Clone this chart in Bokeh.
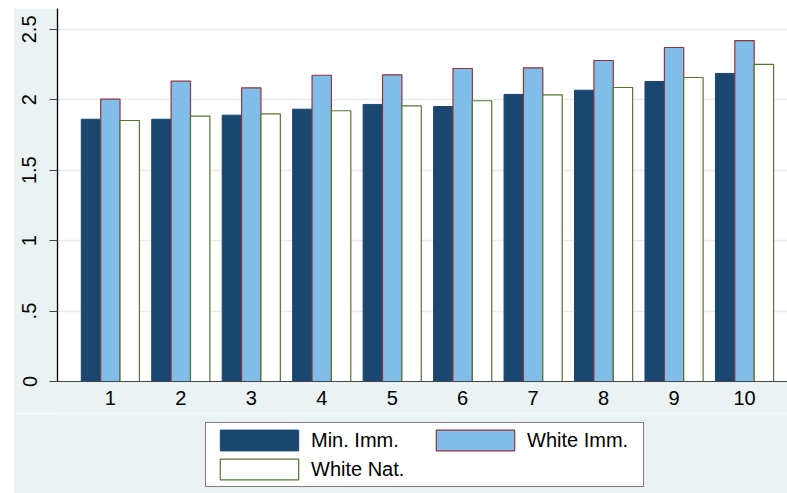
import numpy as np
from bokeh.plotting import figure
from bokeh.layouts import column
from bokeh.models import Range1d, FixedTicker, Legend, LegendItem
from bokeh.embed import file_html
from bokeh.resources import INLINE

categories = [1, 2, 3, 4, 5, 6, 7, 8, 9, 10]
min_imm = [1.862, 1.862, 1.891, 1.933, 1.967, 1.952, 2.038, 2.068, 2.130, 2.187]
white_imm = [2.004, 2.132, 2.085, 2.174, 2.177, 2.222, 2.227, 2.279, 2.371, 2.420]
white_nat = [1.853, 1.884, 1.900, 1.922, 1.957, 1.993, 2.035, 2.087, 2.158, 2.252]
y_ticks = [0, 0.5, 1, 1.5, 2, 2.5]
y_tick_labels = ["0", ".5", "1", "1.5", "2", "2.5"]
series_names = ["Min. Imm.", "White Imm.", "White Nat."]

FONT = "Liberation Sans"
BG = "#EAF2F3"
styles = [dict(fill_color="#1A476F", line_color="#1A476F", line_width=1),
          dict(fill_color="#80BDE8", line_color="#90353B", line_width=1.2),
          dict(fill_color="white", line_color="#55752F", line_width=1.2)]
series = [min_imm, white_imm, white_nat]

p = figure(width=774, height=405, output_backend="svg", toolbar_location=None,
           x_range=Range1d(0.25, 10.61), y_range=Range1d(0, 2.648),
           min_border_left=44, min_border_right=0, min_border_top=0, min_border_bottom=32)
p.margin = (8, 0, 0, 13)
p.background_fill_color = "white"
p.border_fill_color = BG
p.outline_line_color = None

cats = np.array(categories, dtype=float)
bw = 0.275
offsets = [-bw, 0, bw]
for vals, off, st in zip(series, offsets, styles):
    p.vbar(x=cats + off, top=vals, width=bw, **st)

# axes
p.xaxis.ticker = FixedTicker(ticks=categories)
p.xaxis.major_tick_line_color = None
p.xaxis.minor_tick_line_color = None
p.xaxis.major_tick_out = 0
p.xaxis.major_label_standoff = 9
p.xaxis.axis_line_color = "#444444"
p.xaxis.axis_line_width = 1.2
p.xaxis.major_label_text_font = FONT
p.xaxis.major_label_text_font_size = "20px"
p.xaxis.major_label_text_color = "black"

p.yaxis.ticker = FixedTicker(ticks=y_ticks)
p.yaxis.major_label_overrides = {t: l for t, l in zip(y_ticks, y_tick_labels)}
p.yaxis.major_label_orientation = "vertical"
p.yaxis.minor_tick_line_color = None
p.yaxis.major_tick_out = 8
p.yaxis.major_tick_in = 0
p.yaxis.major_tick_line_color = "#444444"
p.yaxis.major_tick_line_width = 1.2
p.yaxis.axis_line_color = "black"
p.yaxis.axis_line_width = 1.3
p.yaxis.major_label_standoff = 13
p.yaxis.major_label_text_font = FONT
p.yaxis.major_label_text_font_size = "20px"
p.yaxis.major_label_text_color = "black"

p.xgrid.grid_line_color = None
p.ygrid.ticker = FixedTicker(ticks=y_ticks[1:])
p.ygrid.grid_line_color = "#E4ECEF"
p.ygrid.grid_line_width = 1.5

# legend strip below the chart: hidden copies of the series serve as legend keys
q = figure(width=774, height=80, output_backend="svg", toolbar_location=None,
           x_axis_type=None, y_axis_type=None,
           x_range=Range1d(0.25, 10.61), y_range=Range1d(0, 2.648),
           min_border_left=0, min_border_right=0, min_border_top=0, min_border_bottom=0)
q.margin = (0, 0, 0, 13)
q.background_fill_color = BG
q.border_fill_color = BG
q.outline_line_color = None
q.xgrid.grid_line_color = None
q.ygrid.grid_line_color = None
lr = [q.vbar(x=cats + off, top=vals, width=bw, visible=False, **st)
      for vals, off, st in zip(series, offsets, styles)]

legend = Legend(items=[LegendItem(label=series_names[0], renderers=[lr[0]]),
                       LegendItem(label=series_names[2], renderers=[lr[2]]),
                       LegendItem(label=series_names[1], renderers=[lr[1]])],
                ncols=2, location=(148, 6))
legend.glyph_width = 98
legend.glyph_height = 26
legend.label_height = 26
legend.label_standoff = 3
legend.label_width = 112
legend.spacing = 3
legend.padding = 4
legend.margin = 0
legend.inactive_fill_alpha = 0
legend.label_text_font = FONT
legend.label_text_font_size = "20px"
legend.label_text_color = "black"
legend.border_line_color = "black"
legend.border_line_width = 1
legend.background_fill_color = "white"
legend.background_fill_alpha = 1
q.add_layout(legend, "center")

layout = column(p, q, spacing=0)
open("out.html", "w").write(file_html(layout, INLINE))
